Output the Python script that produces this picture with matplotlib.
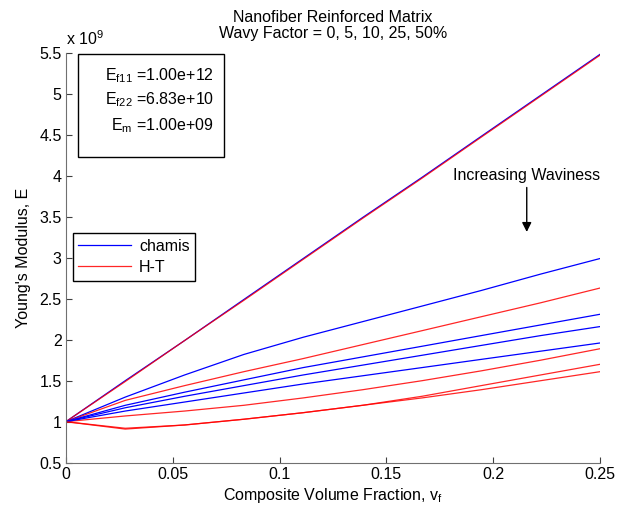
import matplotlib
matplotlib.use("Agg")
import matplotlib.pyplot as plt
from matplotlib.patches import Rectangle

plt.rcParams['font.family'] = ['Liberation Sans', 'DejaVu Sans']
plt.rcParams['mathtext.fontset'] = 'custom'
plt.rcParams['mathtext.rm'] = 'Liberation Sans'
plt.rcParams['mathtext.it'] = 'Liberation Sans'
fs = 11.5

# volume fraction samples
vf = [0, 0.0278, 0.0556, 0.0833, 0.1111, 0.1389, 0.1667, 0.1944, 0.2222, 0.25]

# Young's modulus (x 1e9), wavy factor 0, 5, 10, 25, 50 %
chamis = [
    [1.0, 1.50, 1.99, 2.49, 2.99, 3.49, 3.98, 4.48, 4.98, 5.48],
    [1.0, 1.30, 1.57, 1.82, 2.03, 2.22, 2.41, 2.60, 2.80, 2.99],
    [1.0, 1.20, 1.36, 1.51, 1.66, 1.79, 1.92, 2.05, 2.18, 2.31],
    [1.0, 1.17, 1.31, 1.44, 1.57, 1.69, 1.81, 1.93, 2.05, 2.16],
    [1.0, 1.13, 1.24, 1.35, 1.46, 1.56, 1.66, 1.76, 1.86, 1.96],
]
halpin_tsai = [
    [1.0, 1.49, 1.99, 2.48, 2.98, 3.48, 3.97, 4.47, 4.97, 5.47],
    [1.0, 1.26, 1.44, 1.61, 1.77, 1.94, 2.11, 2.28, 2.45, 2.63],
    [1.0, 1.07, 1.13, 1.20, 1.29, 1.39, 1.50, 1.62, 1.75, 1.89],
    [1.0, 0.92, 0.96, 1.03, 1.11, 1.20, 1.31, 1.44, 1.57, 1.70],
    [1.0, 0.91, 0.96, 1.03, 1.11, 1.20, 1.29, 1.39, 1.50, 1.61],
]

xticks = [0, 0.05, 0.1, 0.15, 0.2, 0.25]
xticklabels = ['0', '0.05', '0.1', '0.15', '0.2', '0.25']
yticks = [0.5, 1, 1.5, 2, 2.5, 3, 3.5, 4, 4.5, 5, 5.5]
yticklabels = ['0.5', '1', '1.5', '2', '2.5', '3', '3.5', '4', '4.5', '5', '5.5']

info_lines = ['E$_{f11}$ =1.00e+12', 'E$_{f22}$ =6.83e+10', 'E$_m$ =1.00e+09']

fig = plt.figure(figsize=(6.27, 5.14), dpi=100)
ax = fig.add_axes([0.105, 0.0998, 0.852, 0.7977])

for i in range(len(chamis)):
    ax.plot(vf, chamis[i], color='blue', lw=0.9, label='chamis' if i == 0 else None)
    ax.plot(vf, halpin_tsai[i], color='red', lw=0.9, alpha=0.85,
            label='H-T' if i == 0 else None)

ax.set_xlim(0, 0.25)
ax.set_ylim(0.5, 5.5)
ax.set_xticks(xticks)
ax.set_xticklabels(xticklabels)
ax.set_yticks(yticks)
ax.set_yticklabels(yticklabels)
ax.tick_params(direction='in', length=4, labelsize=fs, color='#404040', pad=3)
ax.spines['top'].set_visible(False)
ax.spines['right'].set_visible(False)
for s in ['left', 'bottom']:
    ax.spines[s].set_color('#707070')

ax.set_title('Nanofiber Reinforced Matrix\nWavy Factor = 0, 5, 10, 25, 50%',
             fontsize=fs, pad=10.5, linespacing=1.12)
ax.set_xlabel('Composite Volume Fraction, v$_f$', fontsize=fs, labelpad=3)
ax.set_ylabel("Young's Modulus, E", fontsize=fs, labelpad=6)
ax.text(0, 1.012, 'x 10$^9$', transform=ax.transAxes, fontsize=fs,
        ha='left', va='bottom')

# parameter box
ax.add_patch(Rectangle((0.0225, 0.7456), 0.2735, 0.2512, transform=ax.transAxes,
                       fc='white', ec='black', lw=1, zorder=5))
for yy, line in zip([0.9334, 0.8749, 0.8115], info_lines):
    ax.text(0.277, yy, line, transform=ax.transAxes, ha='right', va='baseline',
            fontsize=fs, zorder=6)

ax.annotate('', xy=(0.2157, 3.28), xytext=(0.2157, 3.89),
            arrowprops=dict(arrowstyle='-|>', color='black', lw=1,
                            mutation_scale=14))
ax.text(0.2157, 4.0, 'Increasing Waviness', ha='center', va='center',
        fontsize=fs)

leg = ax.legend(loc='upper left', bbox_to_anchor=(0.013, 0.56), fontsize=fs,
                fancybox=False, edgecolor='black', framealpha=1,
                handlelength=3.3, borderpad=0.35, labelspacing=0.4,
                borderaxespad=0, handletextpad=0.5)
leg.get_frame().set_linewidth(1)

fig.savefig('out.png', dpi=100)
